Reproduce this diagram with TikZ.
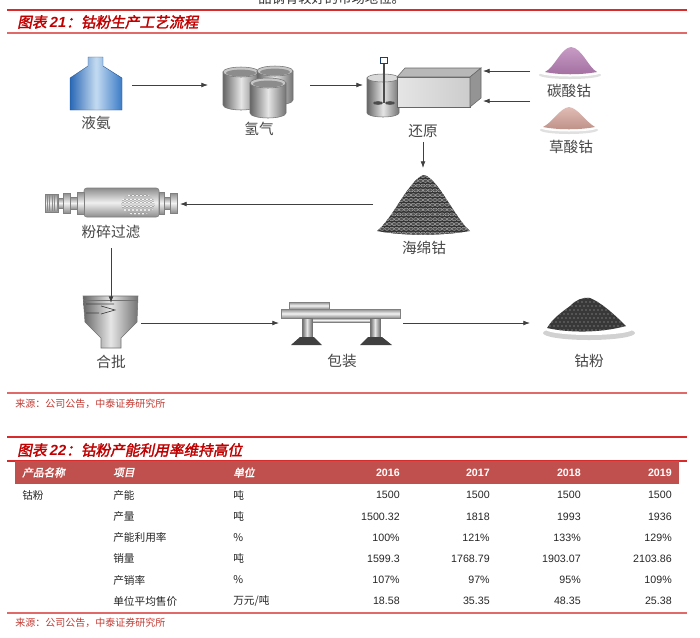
\documentclass[tikz,border=0pt]{standalone}
\usepackage{fontspec}
\setmainfont{Liberation Sans}
\newfontfamily\cjk{Noto Sans CJK SC}
\newfontfamily\cjkt[FakeSlant=0.2,FakeBold=2]{Noto Sans CJK SC}
\usetikzlibrary{arrows.meta}
\definecolor{tred}{HTML}{C00000}
\definecolor{lred}{HTML}{D92B2B}
\definecolor{pred}{HTML}{E06A6A}
\definecolor{band}{HTML}{C0504D}
\definecolor{srcred}{HTML}{C23A32}
\definecolor{nhd}{HTML}{2A68B6}
\definecolor{nhl}{HTML}{C4DBF1}
\definecolor{nhr}{HTML}{3A7BC6}
\definecolor{pink}{HTML}{B57BB2}
\definecolor{beige}{HTML}{D3A096}

\begin{document}
\begin{tikzpicture}[x=0.75pt,y=-0.75pt]
\tikzstyle{spot}=[inner sep=0pt, outer sep=0pt]
\tikzstyle{lbl}=[font=\cjk\fontsize{11}{13}\selectfont, text=black!72, inner sep=2pt]
\tikzstyle{flow}=[-{Latex[length=5pt,width=3.6pt]}, line width=0.6pt, black!75]
\tikzstyle{ttl}=[font=\cjkt\fontsize{11}{13}\selectfont, text=tred, anchor=west, inner sep=0pt]
\tikzstyle{src}=[font=\cjk\fontsize{7.5}{9}\selectfont, text=srcred, anchor=west, inner sep=0pt]
\tikzstyle{hd}=[font=\cjkt\fontsize{8}{10}\selectfont, text=white, anchor=west, inner sep=0pt]
\tikzstyle{hdn}=[font=\bfseries\fontsize{8}{10}\selectfont, text=white, anchor=east, inner sep=0pt]
\tikzstyle{cell}=[font=\cjk\fontsize{8}{10}\selectfont, text=black!85, anchor=west, inner sep=0pt]
\tikzstyle{num}=[font=\fontsize{8}{10}\selectfont, text=black!85, anchor=east, inner sep=0pt]
\tikzstyle{metal}=[left color=black!60, right color=black!55, middle color=black!10, draw=black!55, line width=0.4pt]
\tikzstyle{ring}=[top color=black!45, bottom color=black!45, middle color=black!5, draw=black!50, line width=0.3pt]

\path[use as bounding box, fill=white] (0,0) rectangle (700,637);

\path (258,-1.5) node[anchor=west, inner sep=0pt, font=\cjk\fontsize{10}{12}\selectfont, text=black!80](prev){品钢有较好的市场地位。};
\draw[lred, line width=1.6] (7,10) -- (687,10);
\path (17,22) node[ttl](t21){图表 {\rmfamily\bfseries\itshape 21}：钴粉生产工艺流程};
\draw[pred, line width=0.8] (7,33) -- (687,33);

\shade[left color=nhd, right color=nhr, middle color=nhl, draw=nhd!80!black, line width=0.3pt] (88,57) -- (103,57) -- (103,66) -- (122,78) -- (122,110) -- (70,110) -- (70,78) -- (88,66) -- cycle;
\path (96,85) node[spot, minimum width=54pt, minimum height=40.5pt](nh3){};
\path (96,123) node[lbl](nh3l){液氨};

\foreach \cx/\ty/\h in {241/72/33, 275/71/29, 268/83/30}{
\shade[metal] (\cx-18,\ty) -- (\cx-18,\ty+\h) arc[start angle=180, end angle=0, x radius=18, y radius=5] -- (\cx+18,\ty) -- cycle;
\draw[fill=black!22, draw=black!55, line width=0.4pt] (\cx,\ty) ellipse[x radius=18, y radius=5];
\fill[black!45] (\cx,\ty+1) ellipse[x radius=15, y radius=3.4];
}
\path (259,85) node[spot, minimum width=76.5pt, minimum height=37.5pt](h2){};
\path (259,129) node[lbl](h2l){氢气};

\shade[metal] (367,78) -- (367,113) arc[start angle=180, end angle=0, x radius=16, y radius=4] -- (399,78) -- cycle;
\draw[fill=black!15, draw=black!55, line width=0.4pt] (383,78) ellipse[x radius=16, y radius=4];
\draw[black!70, line width=0.8pt] (384,63) -- (384,103);
\fill[black!70] (378,103) ellipse[x radius=5, y radius=1.8] (390,103) ellipse[x radius=5, y radius=1.8];
\draw[fill=white, draw=nhd!60!black, line width=1.2pt] (380.5,57.5) rectangle (387.5,63.5);
\shade[left color=black!10, right color=black!20, draw=black!60, line width=0.4pt] (397,77) rectangle (470,107);
\fill[black!28, draw=black!60, line width=0.4pt] (397,77) -- (405,68) -- (481,68) -- (470,77) -- cycle;
\fill[black!42, draw=black!60, line width=0.4pt] (470,77) -- (481,68) -- (481,98) -- (470,107) -- cycle;
\path (423,85) node[spot, minimum width=90pt, minimum height=45pt](red){};
\path (423,131) node[lbl](redl){还原};

\fill[black!12] (570,75) ellipse[x radius=31, y radius=4];
\fill[white] (570,73) ellipse[x radius=30, y radius=3.5];
\shade[top color=pink!75, bottom color=pink!90!black] (545,72) .. controls (555,67) and (561,48) .. (571,47) .. controls (582,48) and (588,67) .. (597,72) .. controls (580,75) and (560,75) .. cycle;
\path (570,71) node[spot, minimum width=60pt, minimum height=7.5pt](co3){};
\path (569,91) node[lbl](co3l){碳酸钴};

\fill[black!12] (569,130) ellipse[x radius=29, y radius=4];
\fill[white] (569,128) ellipse[x radius=28, y radius=3.5];
\shade[top color=beige!70, bottom color=beige!90!black] (543,127) .. controls (553,122) and (560,108) .. (569,107) .. controls (578,108) and (586,122) .. (595,127) .. controls (580,130) and (558,130) .. cycle;
\path (570,101) node[spot, minimum width=60pt, minimum height=7.5pt](c2o4){};
\path (571,147) node[lbl](c2o4l){草酸钴};

\begin{scope}
\clip (377,231) .. controls (392,220) and (410,178) .. (424,175) .. controls (438,178) and (456,220) .. (470,231) .. controls (440,236) and (405,236) .. cycle;
\fill[black!80] (370,170) rectangle (475,240);
\foreach \i in {0,...,20} \foreach \j in {0,...,12}
\draw[black!30, fill=black!68, line width=0.3pt] ({375+4.8*\i+2.4*mod(\j,2)},{176+4.8*\j}) ellipse[x radius=2.2, y radius=1.6];
\end{scope}
\path (424,204) node[spot, minimum width=76.5pt, minimum height=54pt](sp){};
\path (424,248) node[lbl](spl){海绵钴};

\shade[top color=black!45, bottom color=black!45, middle color=black!6, draw=black!50, line width=0.4pt, rounded corners=2pt] (84,188) rectangle (159,217);
\begin{scope}
\clip (138,204) ellipse[x radius=17, y radius=11];
\foreach \i in {0,...,9} \foreach \j in {0,...,6}
\draw[black!40, fill=white, line width=0.3pt] ({119+4*\i+2*mod(\j,2)},{192+3.6*\j}) circle[radius=1.6];
\end{scope}
\foreach \a/\b/\t in {159/164/192, 164/170/197, 170/177/193, 77/84/192, 70/77/197, 63/70/193, 58/63/198}
\shade[ring] (\a,\t) rectangle (\b,{406-\t});
\shade[ring] (45,194) rectangle (58,212);
\foreach \x in {47,49.5,...,57} \draw[black!45, line width=0.3pt] (\x,195) -- (\x,211);
\path (112,204) node[spot, minimum width=102pt, minimum height=22.5pt](mill){};
\path (111,232) node[lbl](milll){粉碎过滤};

\shade[metal] (83,296) -- (138,296) -- (137,322) -- (121,338) -- (121,348) -- (101,348) -- (101,338) -- (85,322) -- cycle;
\draw[black!55, line width=0.4pt] (83,300) -- (138,300);
\draw[black!75, line width=0.5pt] (86,304) -- (114,304) (86,313) -- (99,313) (101,306) -- (115,310) -- (101,314);
\path (111,323) node[spot, minimum width=45pt, minimum height=30pt](hop){};
\path (111,362) node[lbl](hopl){合批};

\shade[ring] (289,302) rectangle (329,309);
\shade[ring] (281,309) rectangle (400,318);
\shade[ring] (310,318) rectangle (372,322);
\shade[metal] (302,318) rectangle (312,337);
\shade[metal] (370,318) rectangle (380,337);
\fill[black!75] (300,337) -- (314,337) -- (322,345) -- (291,345) -- cycle;
\fill[black!75] (368,337) -- (382,337) -- (392,345) -- (360,345) -- cycle;
\path (341,323) node[spot, minimum width=93pt, minimum height=30pt](pack){};
\path (342,361) node[lbl](packl){包装};

\fill[black!18] (589,333) ellipse[x radius=46, y radius=7];
\fill[white] (589,329) ellipse[x radius=44, y radius=6];
\begin{scope}
\clip (547,328) .. controls (553,318) and (562,312) .. (570,306) .. controls (576,300) and (582,297) .. (590,298) .. controls (600,302) and (612,312) .. (626,326) .. controls (600,333) and (570,333) .. cycle;
\fill[black!78] (540,290) rectangle (630,340);
\foreach \i in {0,...,19} \foreach \j in {0,...,8}
\fill[black!55] ({548+4*\i+2*mod(\j,2)},{298+4*\j}) circle[radius=0.9];
\end{scope}
\path (585,323) node[spot, minimum width=82.5pt, minimum height=37.5pt](copw){};
\path (589,361) node[lbl](copwl){钴粉};

\draw[flow] (nh3.east) -- (h2.west);
\draw[flow] (h2.east) -- (red.west);
\draw[flow] (co3.west) -- (co3.west -| red.east);
\draw[flow] (c2o4.west) -- (c2o4.west -| red.east);
\draw[flow, shorten <=1pt] (redl.south) -- (redl.south |- sp.north);
\draw[flow] (sp.west) -- (mill.east);
\draw[flow, shorten <=5pt] (milll.south) -- (milll.south |- hop.north);
\draw[flow] (hop.east) -- (pack.west);
\draw[flow] (pack.east) -- (copw.west);

\draw[pred, line width=0.8] (7,393) -- (687,393);
\path (15,404) node[src](s21){来源：公司公告，中泰证券研究所};

\draw[lred, line width=1.4] (7,437) -- (687,437);
\path (17,450) node[ttl](t22){图表 {\rmfamily\bfseries\itshape 22}：钴粉产能利用率维持高位};
\draw[lred, line width=0.8] (7,461) -- (687,461);
\fill[band] (15,461) rectangle (679,484);
\path (22,472.5) node[hd](h1){产品名称} (113,472.5) node[hd](h2x){项目} (233,472.5) node[hd](h3){单位};
\path (400,472.5) node[hdn](y16){2016} (490,472.5) node[hdn](y17){2017} (581,472.5) node[hdn](y18){2018} (672,472.5) node[hdn](y19){2019};
\path (22,495) node[cell](prod){钴粉};
\foreach \y/\itm/\un/\a/\b/\c/\d [count=\i] in {495/产能/吨/1500/1500/1500/1500, 516.7/产量/吨/1500.32/1818/1993/1936, 537.5/产能利用率/\%/100\%/121\%/133\%/129\%, 558.5/销量/吨/1599.3/1768.79/1903.07/2103.86, 580/产销率/\%/107\%/97\%/95\%/109\%, 601/单位平均售价/{万元/吨}/18.58/35.35/48.35/25.38}{
\path (113,\y) node[cell](v\i-1){\itm} (233,\y) node[cell](v\i-2){\un} (400,\y) node[num](v\i-3){\a} (490,\y) node[num](v\i-4){\b} (581,\y) node[num](v\i-5){\c} (672,\y) node[num](v\i-6){\d};
}
\draw[pred, line width=0.8] (7,613) -- (687,613);
\path (15,623) node[src](s22){来源：公司公告，中泰证券研究所};
\end{tikzpicture}
\end{document}
